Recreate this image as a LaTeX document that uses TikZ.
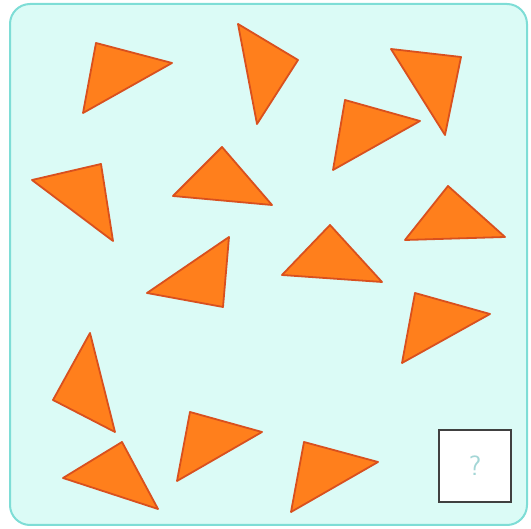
\documentclass[tikz,border=0pt]{standalone}
\usepackage{tikz}

\definecolor{cardfill}{HTML}{DBFBF6}
\definecolor{carddraw}{HTML}{7EDDD6}
\definecolor{trifill}{HTML}{FF7F1C}
\definecolor{tridraw}{HTML}{D9501E}
\definecolor{qmark}{HTML}{A3D6D6}

\begin{document}
\begin{tikzpicture}[
    x=1pt, y=-1pt,
    card/.style={draw=carddraw, fill=cardfill, line width=2pt, rounded corners=20pt},
    tri/.style={draw=tridraw, fill=trifill, line width=1.8pt, line join=round},
    qbox/.style={draw=black!75, fill=white, line width=1.3pt, minimum size=72pt, inner sep=0pt,
                 font=\sffamily\fontsize{28}{30}\selectfont, text=qmark}
]
\useasboundingbox (0,0) rectangle (531,529);

% Card
\draw[card] (10,4) rectangle (527,525);

% Top row
\draw[tri] (96,43) -- (172,63) -- (83,113) -- cycle;
\draw[tri] (238,24) -- (298,60) -- (257,124) -- cycle;
\draw[tri] (391,49) -- (461,57) -- (445,135) -- cycle;
\draw[tri] (345,100) -- (420,121) -- (333,170) -- cycle;

% Second row
\draw[tri] (32,180) -- (101,164) -- (113,241) -- cycle;
\draw[tri] (222,147) -- (173,196) -- (272,205) -- cycle;
\draw[tri] (448,186) -- (405,240) -- (505,237) -- cycle;

% Middle row
\draw[tri] (229,237) -- (147,293) -- (223,307) -- cycle;
\draw[tri] (330,225) -- (282,275) -- (382,282) -- cycle;
\draw[tri] (415,293) -- (490,314) -- (402,363) -- cycle;

% Lower rows
\draw[tri] (90,333) -- (53,400) -- (115,432) -- cycle;
\draw[tri] (122,442) -- (63,478) -- (158,509) -- cycle;
\draw[tri] (190,412) -- (262,432) -- (177,481) -- cycle;
\draw[tri] (304,442) -- (378,462) -- (291,512) -- cycle;

% Answer box
\node[qbox] (answer) at (475,466) {?};

\end{tikzpicture}
\end{document}
